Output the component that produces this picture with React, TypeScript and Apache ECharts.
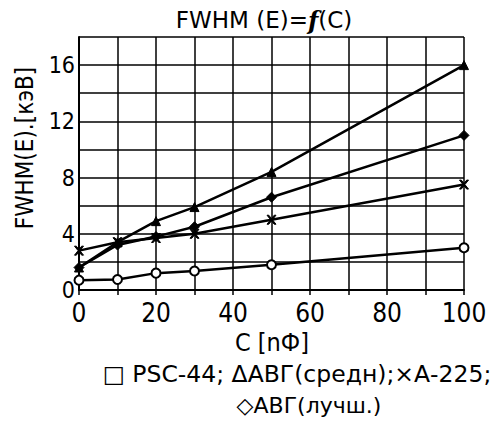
import React, { useEffect, useRef } from "react";
import * as echarts from "echarts";

const capacitance = [0, 10, 20, 30, 50, 100];
const psc44 = [0.7, 0.75, 1.2, 1.35, 1.8, 3.0];
const avgMean = [1.6, 3.4, 4.9, 5.9, 8.4, 16.0];
const a225 = [2.8, 3.4, 3.7, 4.0, 5.0, 7.5];
const avgBest = [1.6, 3.2, 3.8, 4.5, 6.6, 11.0];
const yTickLabels = [0, 4, 8, 12, 16];
const xTickLabels = [0, 20, 40, 60, 80, 100];

const NARROW = "'DejaVu Sans Condensed', 'Liberation Sans', sans-serif";
const SANS = "'DejaVu Sans', sans-serif";

const pairs = (ys: number[]) => capacitance.map((c, i) => [c, ys[i]]);

export default function App() {
  const ref = useRef<HTMLDivElement>(null);
  useEffect(() => {
    if (!ref.current) return;
    const chart = echarts.init(ref.current, null, { renderer: "svg" });
    const line = { color: "#000", width: 2.5 };
    const base = { type: "line", lineStyle: line, itemStyle: { color: "#000", borderColor: "#000" }, z: 5 };
    chart.setOption({
      animation: false,
      backgroundColor: "#fff",
      grid: { left: 79, right: 31, top: 37, bottom: 132 },
      xAxis: {
        type: "value", min: 0, max: 100, interval: 10,
        axisLine: { show: true, lineStyle: { color: "#000", width: 2 } },
        axisTick: { show: true, length: 5, lineStyle: { color: "#000", width: 1.5 } },
        splitLine: { show: true, lineStyle: { color: "#000", width: 1.5 } },
        axisLabel: {
          color: "#000", fontSize: 26, fontFamily: NARROW, margin: 10,
          formatter: (v: number) => (xTickLabels.includes(v) ? String(v) : ""),
        },
      },
      yAxis: {
        type: "value", min: 0, max: 18, interval: 2,
        axisLine: { show: true, lineStyle: { color: "#000", width: 2 } },
        axisTick: { show: false },
        splitLine: { show: true, lineStyle: { color: "#000", width: 1.5 } },
        axisLabel: {
          color: "#000", fontSize: 23, fontFamily: NARROW, margin: 4,
          formatter: (v: number) => (yTickLabels.includes(v) ? String(v) : ""),
        },
      },
      series: [
        { ...base, name: "PSC-44", data: pairs(psc44), symbol: "emptyCircle", symbolSize: 9,
          itemStyle: { color: "#000", borderColor: "#000", borderWidth: 2 } },
        { ...base, name: "АВГ(средн)", data: pairs(avgMean), symbol: "triangle", symbolSize: 9 },
        { ...base, name: "А-225", data: pairs(a225), symbol: "path://M0,0L2,0L5,3L8,0L10,0L6,4L10,8L8,8L5,5L2,8L0,8L4,4Z", symbolSize: 9 },
        { ...base, name: "АВГ(лучш.)", data: pairs(avgBest), symbol: "diamond", symbolSize: 10 },
      ],
      graphic: [
        {
          type: "text", x: 264, y: 20,
          style: {
            text: "FWHM (E)={f|f}(C)", fill: "#000", fontSize: 23, fontFamily: SANS,
            align: "center", verticalAlign: "middle",
            rich: { f: { fontSize: 24, fontStyle: "italic", fontWeight: "bold", fontFamily: "'DejaVu Serif', serif" } },
          },
        },
        {
          type: "text", x: 25, y: 148, rotation: Math.PI / 2,
          style: { text: "FWHM(E).[кэВ]", fill: "#000", fontSize: 24, fontFamily: NARROW, align: "center", verticalAlign: "middle" },
        },
        {
          type: "text", x: 272, y: 342,
          style: { text: "C [nФ]", fill: "#000", fontSize: 25, fontFamily: NARROW, align: "center", verticalAlign: "middle" },
        },
        {
          type: "text", x: 297, y: 374,
          style: { text: "□ PSC-44; ΔАВГ(средн);×А-225;", fill: "#000", fontSize: 23.5, fontFamily: SANS, align: "center", verticalAlign: "middle" },
        },
        {
          type: "text", x: 309, y: 405,
          style: { text: "◇АВГ(лучш.)", fill: "#000", fontSize: 22, fontFamily: SANS, align: "center", verticalAlign: "middle" },
        },
      ],
    });
    return () => chart.dispose();
  }, []);
  return <div ref={ref} style={{ position: "absolute", left: 0, top: 0, width: 495, height: 422 }} />;
}
